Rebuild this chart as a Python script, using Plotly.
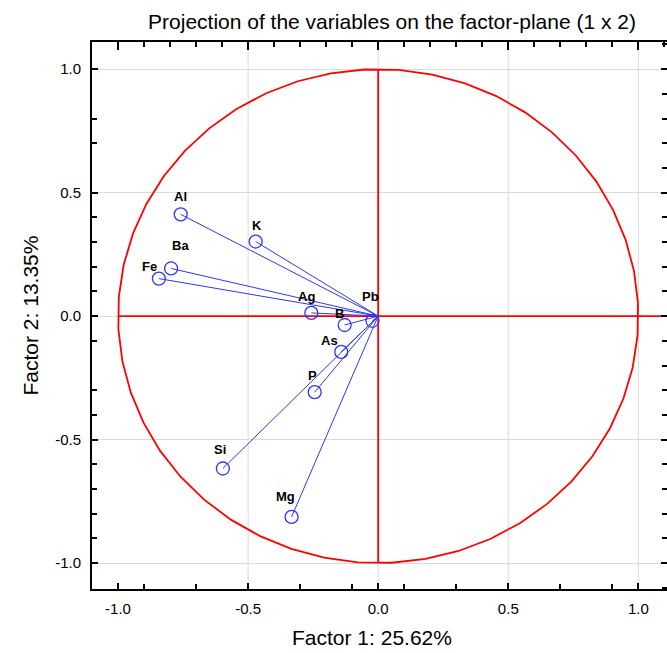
import numpy as np
import plotly.graph_objects as go

# Variable loadings on factor 1 (x) and factor 2 (y)
variables = ["Al", "K", "Ba", "Fe", "Ag", "Pb", "B", "As", "P", "Si", "Mg"]
factor1 = [-0.759, -0.471, -0.796, -0.843, -0.257, -0.022, -0.129, -0.142, -0.244, -0.597, -0.333]
factor2 = [0.412, 0.302, 0.193, 0.152, 0.013, -0.019, -0.036, -0.145, -0.308, -0.617, -0.813]
# label offsets in pixels (dx, dy) relative to each marker
label_dx = [0, 1, 9, -9, -5, -2, -5, -12, -2, -3, -6]
label_dy = [18, 16, 23, 12, 16, 24, 12, 11, 17, 19, 20]

x_major = [-1.0, -0.5, 0.0, 0.5, 1.0]
x_labels = ["-1.0", "-0.5", "0.0", "0.5", "1.0"]
y_major = [-1.0, -0.5, 0.0, 0.5, 1.0]
y_labels = ["-1.0", "-0.5", "0.0", "0.5", "1.0"]
x_minor_bottom = [-0.9, -0.7, -0.3, -0.1, 0.1, 0.3, 0.7, 0.9]
y_minor_left = [0.8, 0.7, 0.4, 0.3, 0.2, 0.1, -0.1, -0.3, -0.4, -0.6, -0.7, -0.8, -0.9]
x_grid = [-0.5, 0.0, 0.5, 1.0]

BLUE = "rgb(45,55,245)"
RED = "rgb(255,0,0)"
FONT = "Liberation Sans, Arial, sans-serif"

fig = go.Figure()

# unit circle (correlation circle), drawn as a polygon
theta = np.deg2rad(np.arange(0, 361, 7.5) + 3)
fig.add_trace(go.Scatter(x=np.cos(theta), y=np.sin(theta), mode="lines",
                         line=dict(color=RED, width=1.8), hoverinfo="skip"))
# axes through the origin
fig.add_trace(go.Scatter(x=[-1.0, 1.11], y=[0, 0], mode="lines",
                         line=dict(color=RED, width=1.8), hoverinfo="skip"))
fig.add_trace(go.Scatter(x=[0, 0], y=[-1.0, 1.0], mode="lines",
                         line=dict(color=RED, width=1.8), hoverinfo="skip"))

# vectors from origin to each variable
vx, vy = [], []
for a, b in zip(factor1, factor2):
    vx += [0, a, None]
    vy += [0, b, None]
fig.add_trace(go.Scatter(x=vx, y=vy, mode="lines",
                         line=dict(color=BLUE, width=1), hoverinfo="skip"))
fig.add_trace(go.Scatter(x=factor1, y=factor2, mode="markers",
                         marker=dict(symbol="circle-open", size=13,
                                     color=BLUE, line=dict(width=1.3, color=BLUE)),
                         text=variables, hoverinfo="text"))

for name, a, b, dx, dy in zip(variables, factor1, factor2, label_dx, label_dy):
    fig.add_annotation(x=a, y=b, text=f"<b>{name}</b>", showarrow=False,
                       xshift=dx, yshift=dy,
                       font=dict(family=FONT, size=13, color="black"))

for g in x_grid:
    fig.add_shape(type="line", xref="x", yref="paper", x0=g, x1=g, y0=0, y1=1,
                  line=dict(color="rgb(218,218,218)", width=1), layer="below")

fig.add_annotation(xref="paper", yref="paper", x=0.5, y=0, yshift=-48,
                   yanchor="middle", xanchor="center",
                   text="Factor 1: 25.62%", showarrow=False, xshift=-8,
                   font=dict(family=FONT, size=21, color="black"))
fig.add_annotation(xref="paper", yref="paper", x=0, y=0.5, xshift=-62,
                   xanchor="center", yanchor="middle",
                   text="Factor 2: 13.35%", showarrow=False, textangle=-90,
                   font=dict(family=FONT, size=21, color="black"))

fig.update_layout(
    width=667, height=653,
    margin=dict(l=92, r=0, t=42, b=64),
    paper_bgcolor="white", plot_bgcolor="white",
    showlegend=False,
    title=dict(text="Projection of the variables on the factor-plane (1 x 2)",
               x=392 / 667, xanchor="center", xref="container",
               y=1 - 22 / 653, yanchor="middle", yref="container",
               font=dict(family=FONT, size=21, color="black")),
    font=dict(family=FONT, size=15, color="black"),
    xaxis=dict(range=[-1.1, 1.11], showgrid=False, zeroline=False,
               tickmode="array", tickvals=x_major, ticktext=x_labels,
               ticks="inside", ticklen=6, tickwidth=1.5, tickcolor="black",
               minor=dict(tickvals=x_minor_bottom, ticks="inside", ticklen=5,
                          tickwidth=1.5, tickcolor="black", showgrid=False),
               showline=True, linecolor="black", linewidth=2,
               ticklabelstandoff=5, tickfont=dict(size=15)),
    yaxis=dict(range=[-1.105, 1.11], showgrid=True, gridcolor="rgb(218,218,218)",
               gridwidth=1, zeroline=False,
               tickmode="array", tickvals=y_major, ticktext=y_labels,
               ticks="inside", ticklen=6, tickwidth=1.5, tickcolor="black",
               minor=dict(tickvals=y_minor_left, ticks="inside", ticklen=5,
                          tickwidth=1.5, tickcolor="black", showgrid=False),
               showline=True, linecolor="black", linewidth=2,
               ticklabelstandoff=6, tickfont=dict(size=15)),
    xaxis2=dict(range=[-1.1, 1.11], overlaying="x", side="top", showgrid=False,
                zeroline=False, tickmode="array", tickvals=x_major,
                showticklabels=False, ticks="inside", ticklen=8, tickwidth=1.5,
                tickcolor="black",
                minor=dict(dtick=0.1, tick0=0, ticks="inside", ticklen=5,
                           tickwidth=1.5, tickcolor="black", showgrid=False),
                showline=True, linecolor="black", linewidth=2),
    yaxis2=dict(range=[-1.105, 1.11], overlaying="y", side="right", showgrid=False,
                zeroline=False, tickmode="array", tickvals=y_major,
                showticklabels=False, ticks="inside", ticklen=6, tickwidth=1.5,
                tickcolor="black",
                minor=dict(dtick=0.1, tick0=0, ticks="inside", ticklen=5,
                           tickwidth=1.5, tickcolor="black", showgrid=False),
                showline=False),
)
# invisible trace so the secondary axes are drawn
fig.add_trace(go.Scatter(x=[0], y=[0], xaxis="x2", yaxis="y2", mode="markers",
                         marker=dict(opacity=0), hoverinfo="skip"))

fig.write_html("out.html")
